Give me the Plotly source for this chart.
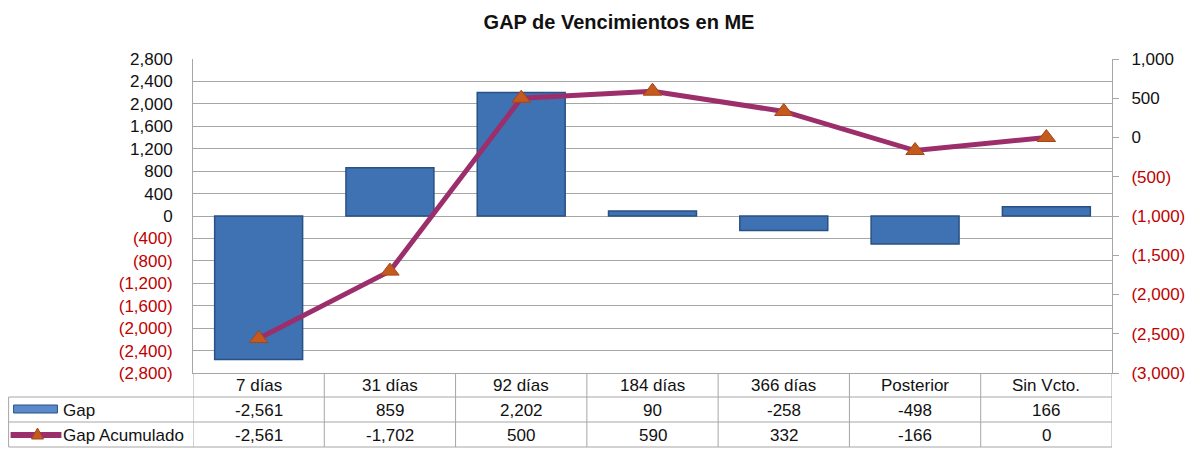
import plotly.graph_objects as go

categories = ["7 días", "31 días", "92 días", "184 días", "366 días", "Posterior", "Sin Vcto."]
gap = [-2561, 859, 2202, 90, -258, -498, 166]
gap_acum = [-2561, -1702, 500, 590, 332, -166, 0]
left_ticks = list(range(-2800, 2801, 400))
right_ticks = list(range(-3000, 1001, 500))

RED = "#C00000"
FONT = "Arial, Liberation Sans, sans-serif"
GRID = "#A6A6A6"
TXT = "#111111"


def fmt_axis(v):
    if v < 0:
        return f"<span style='color:{RED}'>({abs(v):,})</span>"
    return f"{v:,}"


def fmt_table(v):
    return f"{v:,}"


W, H = 1197, 449
L, R, T, B = 193, 82, 59, 76
PH = H - T - B
PW = W - L - R


def py(px):
    return (H - B - px) / PH


def pxx(px):
    return (px - L) / PW


x = list(range(len(categories)))

fig = go.Figure()
fig.add_trace(go.Bar(
    x=x, y=gap, name="Gap", width=0.67,
    marker=dict(color="#3E72B2", line=dict(color="#2A5184", width=1.5)),
    yaxis="y",
))
fig.add_trace(go.Scatter(
    x=x, y=gap_acum, name="Gap Acumulado", mode="lines+markers",
    line=dict(color="#9C2F6B", width=5),
    marker=dict(symbol="triangle-up", size=16, color="#C55A1E",
                line=dict(color="#A4461A", width=1)),
    yaxis="y2",
))

shapes = []
for ypx in (397, 422, 447):
    shapes.append(dict(type="line", xref="paper", yref="paper",
                       x0=pxx(8), x1=1, y0=py(ypx), y1=py(ypx),
                       line=dict(color=GRID, width=1)))
shapes.append(dict(type="line", xref="paper", yref="paper",
                   x0=pxx(8), x1=pxx(8), y0=py(397), y1=py(447),
                   line=dict(color=GRID, width=1)))
for k in range(len(categories) + 1):
    shapes.append(dict(type="line", xref="x", yref="paper",
                       x0=k - 0.5, x1=k - 0.5, y0=0, y1=py(447),
                       line=dict(color=GRID, width=1)))
# legend keys
shapes.append(dict(type="rect", xref="paper", yref="paper",
                   x0=pxx(13), x1=pxx(57), y0=py(413), y1=py(405),
                   line=dict(color="#2A5184", width=1), fillcolor="#5A8ACB"))
shapes.append(dict(type="line", xref="paper", yref="paper",
                   x0=pxx(10), x1=pxx(61), y0=py(435), y1=py(435),
                   line=dict(color="#9C2F6B", width=6)))
tx, ty = 37, 434
shapes.append(dict(type="path", xref="paper", yref="paper",
                   path=f"M {pxx(tx-6)} {py(ty+5)} L {pxx(tx+6)} {py(ty+5)} L {pxx(tx)} {py(ty-6)} Z",
                   line=dict(color="#A4461A", width=1), fillcolor="#C55A1E"))

TF = dict(size=17, color=TXT, family=FONT)
annotations = []
for i, c in enumerate(categories):
    for text, ypx in ((c, 385), (fmt_table(gap[i]), 410), (fmt_table(gap_acum[i]), 435)):
        annotations.append(dict(x=i, y=py(ypx), xref="x", yref="paper", text=text,
                                xanchor="center", yanchor="middle",
                                showarrow=False, font=TF))
for text, ypx in (("Gap", 410), ("Gap Acumulado", 435)):
    annotations.append(dict(x=pxx(61), y=py(ypx), xref="paper", yref="paper", text=text,
                            xanchor="left", yanchor="middle", showarrow=False, font=TF))

fig.update_layout(
    width=W, height=H,
    margin=dict(l=L, r=R, t=T, b=B),
    paper_bgcolor="white", plot_bgcolor="white",
    showlegend=False,
    title=dict(text="<b>GAP de Vencimientos en ME</b>", x=619 / W, xanchor="center",
               y=1 - 22 / H, yanchor="middle", xref="container", yref="container",
               font=dict(size=20, color=TXT, family=FONT)),
    xaxis=dict(range=[-0.5, len(categories) - 0.5], showticklabels=False, showgrid=False,
               zeroline=False, showline=True, linecolor=GRID, linewidth=1),
    yaxis=dict(range=[-2800, 2800], tickvals=left_ticks, ticktext=[fmt_axis(v) for v in left_ticks],
               showgrid=True, gridcolor=GRID, gridwidth=1, zeroline=False,
               showline=True, linecolor=GRID, linewidth=1, ticks="",
               ticklabelstandoff=16,
               tickfont=dict(size=17, color=TXT, family=FONT)),
    yaxis2=dict(range=[-3000, 1000], tickvals=right_ticks, ticktext=[fmt_axis(v) for v in right_ticks],
                overlaying="y", side="right", showgrid=False, zeroline=False,
                showline=True, linecolor=GRID, linewidth=1, ticks="outside", ticklen=6,
                tickcolor=GRID, ticklabelstandoff=9,
                tickfont=dict(size=17, color=TXT, family=FONT)),
    shapes=shapes, annotations=annotations,
)

fig.write_html("out.html", config={"displayModeBar": False},
               post_script="document.body.style.margin='0';")
